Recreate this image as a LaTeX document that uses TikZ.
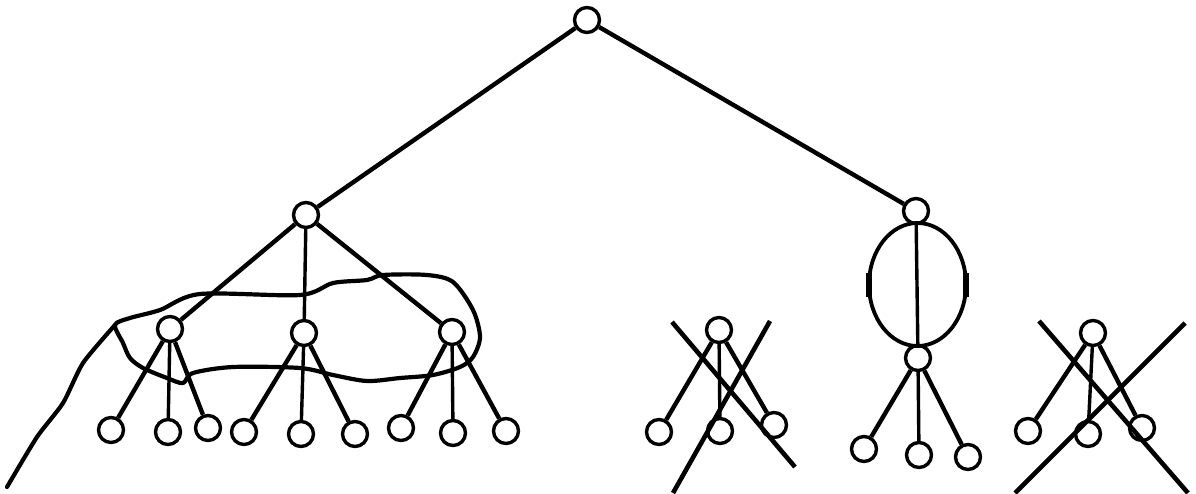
\documentclass[tikz,border=0pt]{standalone}
\usetikzlibrary{shapes.geometric}
\begin{document}
\begin{tikzpicture}[x=1pt,y=-1pt,
  vtx/.style={circle,draw=black,line width=3.4pt,fill=white,minimum size=25pt,inner sep=0pt},
  edge/.style={line width=4.4pt,black},
  thin edge/.style={line width=3.4pt,black},
  strike/.style={line width=4.6pt,black},
  scribble/.style={line width=4.2pt,black,line join=round,line cap=round}]
\useasboundingbox (0,0) rectangle (1196,493);
% nodes
\node[vtx] (root) at (587,20) {};
\node[vtx] (L) at (306,215) {};
\node[vtx] (R) at (916,211) {};
\node[vtx] (A1) at (170,329) {};
\node[vtx] (A2) at (304,333) {};
\node[vtx] (A3) at (452,332) {};
\node[vtx] (a11) at (111,430) {};
\node[vtx] (a12) at (168,432) {};
\node[vtx] (a13) at (208,428) {};
\node[vtx] (a21) at (244,432) {};
\node[vtx] (a22) at (301,434) {};
\node[vtx] (a23) at (355,434) {};
\node[vtx] (a31) at (401,428) {};
\node[vtx] (a32) at (453,433) {};
\node[vtx] (a33) at (506,431) {};
\node[vtx] (M) at (719,330) {};
\node[vtx] (m1) at (659,432) {};
\node[vtx] (m2) at (720,431) {};
\node[vtx] (m3) at (774,425) {};
\node[vtx] (R2) at (918,358) {};
\node[vtx] (r1) at (864,449) {};
\node[vtx] (r2) at (919,455) {};
\node[vtx] (r3) at (968,457) {};
\node[vtx] (X) at (1093,333) {};
\node[vtx] (x1) at (1028,431) {};
\node[vtx] (x2) at (1088,434) {};
\node[vtx] (x3) at (1142,428) {};
% edges
\draw[edge] (root) -- (L);
\draw[edge] (root) -- (R);
\draw[edge] (L) -- (A1);
\draw[thin edge] (L) -- (A2);
\draw[edge] (L) -- (A3);
\draw[edge] (A1) -- (a11);
\draw[thin edge] (A1) -- (a12);
\draw[edge] (A1) -- (a13);
\draw[edge] (A2) -- (a21);
\draw[thin edge] (A2) -- (a22);
\draw[edge] (A2) -- (a23);
\draw[edge] (A3) -- (a31);
\draw[thin edge] (A3) -- (a32);
\draw[edge] (A3) -- (a33);
\draw[edge] (M) -- (m1);
\draw[thin edge] (M) -- (m2);
\draw[edge] (M) -- (m3);
\draw[thin edge] (R) -- (R2);
\draw[edge] (R2) -- (r1);
\draw[thin edge] (R2) -- (r2);
\draw[edge] (R2) -- (r3);
\draw[edge] (X) -- (x1);
\draw[thin edge] (X) -- (x2);
\draw[edge] (X) -- (x3);
% ellipse between R and R2
\node[ellipse,draw=black,line width=3.8pt,minimum width=97pt,minimum height=123pt,inner sep=0pt] (E) at (917.5,284.5) {};
\draw[line width=6pt] (869,273) -- (869,297);
\draw[line width=6pt] (966,273) -- (966,297);
% strike-out crosses
\coordinate (c1a) at (672,322);
\coordinate (c1b) at (795,467);
\coordinate (c1c) at (770,321);
\coordinate (c1d) at (673,493);
\draw[strike] (c1a) -- (c1b);
\draw[strike] (c1c) -- (c1d);
\coordinate (c2a) at (1039,321);
\coordinate (c2b) at (1188,493);
\coordinate (c2c) at (1185,323);
\coordinate (c2d) at (1015,493);
\draw[strike] (c2a) -- (c2b);
\draw[strike] (c2c) -- (c2d);
% freehand loop and tail
\draw[scribble] plot[smooth cycle,tension=0.5] coordinates {
 (115,325) (130,318) (160,310) (200,294) (300,295) (333,283) (367,280)
 (383,275) (427,275) (453,282) (473,310) (480,337) (473,357) (460,367)
 (433,375) (400,378) (367,381) (333,375) (300,368) (233,367) (193,373)
 (183,383) (167,378) (143,368) (130,358) (123,343)};
\draw[scribble] plot[smooth,tension=0.4] coordinates {
 (115,325) (83,363) (63,403) (37,437) (7,487)};
\end{tikzpicture}
\end{document}
